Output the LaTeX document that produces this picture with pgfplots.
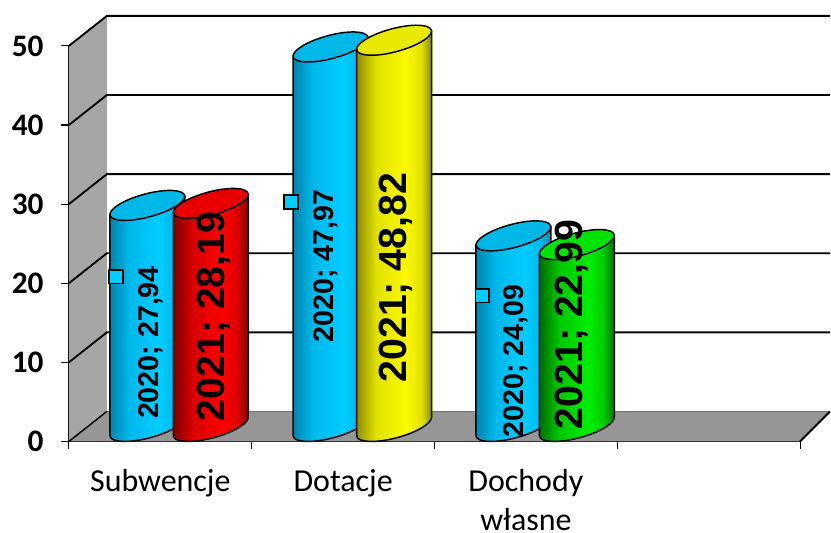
\documentclass[border=0pt]{standalone}
\usepackage{fontspec}
\setmainfont{Carlito}
\newfontfamily\arial{Liberation Sans}
\usepackage{pgfplots}
\pgfplotsset{compat=1.18}
\usepackage{pgfplotstable}

% 1px = 0.75pt; x axis runs in reference pixels, y in data units (7.92 px per unit)
\definecolor{capblue}{RGB}{0,184,232}
\definecolor{capred}{RGB}{232,0,0}
\definecolor{capyellow}{RGB}{232,232,0}
\definecolor{capgreen}{RGB}{0,226,0}
\definecolor{keyblue}{RGB}{0,204,255}

\pgfdeclarehorizontalshading{cylblue}{100bp}{rgb(0bp)=(0,.52,.68); rgb(25bp)=(0,.52,.68); rgb(38bp)=(0,.72,.92); rgb(58bp)=(0,.8,1); rgb(68bp)=(0,.72,.92); rgb(75bp)=(0,.55,.7); rgb(100bp)=(0,.55,.7)}
\pgfdeclarehorizontalshading{cylred}{100bp}{rgb(0bp)=(.5,0,0); rgb(25bp)=(.5,0,0); rgb(38bp)=(.85,0,0); rgb(58bp)=(1,0,0); rgb(68bp)=(.85,0,0); rgb(75bp)=(.5,0,0); rgb(100bp)=(.5,0,0)}
\pgfdeclarehorizontalshading{cylyellow}{100bp}{rgb(0bp)=(.55,.55,0); rgb(25bp)=(.55,.55,0); rgb(38bp)=(.88,.88,0); rgb(58bp)=(.98,.98,0); rgb(68bp)=(.88,.88,0); rgb(75bp)=(.55,.55,0); rgb(100bp)=(.55,.55,0)}
\pgfdeclarehorizontalshading{cylgreen}{100bp}{rgb(0bp)=(0,.42,0); rgb(25bp)=(0,.42,0); rgb(38bp)=(0,.78,0); rgb(58bp)=(0,.93,0); rgb(68bp)=(0,.78,0); rgb(75bp)=(0,.42,0); rgb(100bp)=(0,.42,0)}

\newcommand\capellipse{\pgfpathellipse{\pgfpointorigin}{\pgfpoint{28.01pt}{7.51pt}}{\pgfpoint{-2.25pt}{8.40pt}}}
\pgfdeclareplotmark{cap}{\capellipse\pgfusepathqfillstroke}
\newcommand\defbase[1]{\pgfdeclareplotmark{base#1}{\capellipse\pgfshadepath{cyl#1}{0}\pgfusepathqstroke}}
\defbase{blue}\defbase{red}\defbase{yellow}\defbase{green}

% cylinder side: left edge, chord at the top, right edge
\pgfplotstableread{
dx h d
-37.5 0 -1.136
-37.5 1 -1.136
37.5 1 1.136
37.5 0 1.136
}\cylside

% #1 centre x, #2 value, #3 colour
\newcommand\cyl[3]{%
  \addplot[yshift=11.25pt, only marks, mark=base#3, mark options={draw=black, line width=1.1pt}] coordinates {(#1,0)};
  \addplot[yshift=11.25pt, shade, shading=cyl#3, draw=black, line width=1.1pt]
    table[x expr=#1+\thisrow{dx}, y expr=#2*\thisrow{h}+\thisrow{d}] {\cylside};
  \addplot[yshift=11.25pt, only marks, mark=cap, mark options={fill=cap#3, draw=black, line width=1.1pt}] coordinates {(#1,#2)};
}
\tikzset{wallgrid/.style={black, line width=1.4pt}}

\begin{document}
\begin{tikzpicture}
\begin{axis}[
  scale only axis, width=549pt, height=297pt,
  xmin=69, xmax=801, ymin=0, ymax=50,
  clip=false, clip mode=individual, mark layer=like plot,
  axis x line=bottom, axis y line=left,
  axis line style={-, line width=1.1pt},
  tick style={black, line width=.8pt},
  tick align=outside,
  major tick length=6pt,
  xtick={69,252,435,618,801}, xticklabels={},
  extra x ticks={160.5,343.5,526.5},
  extra x tick labels={Subwencje,Dotacje,{Dochody\\[1pt]własne}},
  extra x tick style={major tick length=0pt, tick style={draw=none}},
  xticklabel style={font=\fontsize{24}{28}\selectfont, align=center, anchor=north, inner ysep=0pt, yshift=-21pt},
  ytick={0,10,20,30,40,50},
  /pgf/number format/assume math mode=true,
  yticklabel style={font=\fontsize{23.5}{26}\bfseries\selectfont, xshift=-9.5pt},
]
% floor and walls
\addplot[fill=black!41, draw=none] coordinates {(69,0)(107,3.79)(831,3.79)(801,0)};
\addplot[black!55, line width=1pt] coordinates {(107,3.79)(831,3.79)};
\addplot[fill=black!35, draw=none] coordinates {(69,0)(69,50)(107,53.79)(107,3.79)};
\addplot[black, line width=1.4pt] coordinates {(801,0)(831,3.79)};
\addplot[black, line width=1.1pt] coordinates {(69,0)(107,3.79)};
\addplot[wallgrid] coordinates {(69,10)(107,13.79)(831,13.79)};
\addplot[wallgrid] coordinates {(69,20)(107,23.79)(831,23.79)};
\addplot[wallgrid] coordinates {(69,30)(107,33.79)(831,33.79)};
\addplot[wallgrid] coordinates {(69,40)(107,43.79)(831,43.79)};
\addplot[wallgrid] coordinates {(69,50)(107,53.79)(831,53.79)};
% cylinders
\cyl{147.5}{27.94}{blue}
\cyl{211}{28.19}{red}
\cyl{331}{47.97}{blue}
\cyl{394.5}{48.82}{yellow}
\cyl{514}{24.09}{blue}
\cyl{577.5}{22.99}{green}
% legend keys of the data labels
\addplot[only marks, mark=square*, mark size=5.2pt, mark options={fill=keyblue, draw=black, line width=1.4pt}]
  coordinates {(116,20.83)(291,30.3)(483,18.43)};
% data labels
\node[rotate=90, font=\arial\bfseries\fontsize{21.5}{24}\selectfont] at (axis cs:151,12.5) {2020; 27,94};
\node[rotate=90, font=\arial\bfseries\fontsize{29.5}{32}\selectfont] at (axis cs:214,15.8) {2021; 28,19};
\node[rotate=90, font=\arial\bfseries\fontsize{21.5}{24}\selectfont] at (axis cs:326,22.2) {2020; 47,97};
\node[rotate=90, font=\arial\bfseries\fontsize{29.5}{32}\selectfont] at (axis cs:396,20.7) {2021; 48,82};
\node[rotate=90, font=\arial\bfseries\fontsize{21.5}{24}\selectfont] at (axis cs:516,10.2) {2020; 24,09};
\node[rotate=90, font=\arial\bfseries\fontsize{29.5}{32}\selectfont] at (axis cs:572,14.8) {2021; 22,99};
% page extent of the reference
\path (axis cs:0,-11.5) rectangle (axis cs:831,55.8);
\end{axis}
\end{tikzpicture}
\end{document}
